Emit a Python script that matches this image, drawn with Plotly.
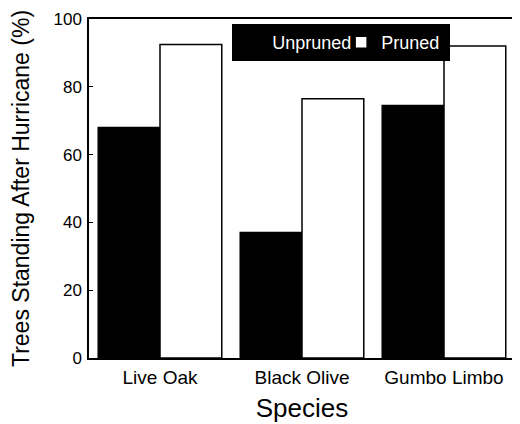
import plotly.graph_objects as go

species = ["Live Oak", "Black Olive", "Gumbo Limbo"]
unpruned = [68, 37, 74.5]
pruned = [92.5, 76.5, 92]

font = "Arial, Liberation Sans, sans-serif"

fig = go.Figure()
fig.add_trace(go.Bar(x=species, y=unpruned, name="Unpruned",
                     marker=dict(color="black", line=dict(color="black", width=1.5))))
fig.add_trace(go.Bar(x=species, y=pruned, name="Pruned",
                     marker=dict(color="white", line=dict(color="black", width=1.5))))

fig.update_layout(
    width=512, height=416,
    margin=dict(l=81, r=5, t=11, b=66),
    paper_bgcolor="white", plot_bgcolor="white",
    barmode="group", bargap=0.13, bargroupgap=0,
    font=dict(family=font, color="black", size=17),
    legend=dict(orientation="h", x=0.336, y=0.985, xanchor="left", yanchor="top",
                bgcolor="black", font=dict(color="white", size=18, family=font),
                itemwidth=30, tracegroupgap=0, entrywidth=64,
                borderwidth=0),
    xaxis=dict(title=dict(text="Species", font=dict(size=26), standoff=12),
               showline=True, linecolor="black", linewidth=1.5, mirror=True,
               ticks="", tickfont=dict(size=19), ticklabelstandoff=1, automargin=False),
    yaxis=dict(title=dict(text="Trees Standing After Hurricane (%)", font=dict(size=23), standoff=22),
               range=[0, 100], tickvals=[0, 20, 40, 60, 80, 100],
               showline=True, linecolor="black", linewidth=1.5, mirror=True,
               ticks="inside", ticklen=4, tickcolor="black", showgrid=False,
               zeroline=False, tickfont=dict(size=17), ticklabelstandoff=2, automargin=False),
)

fig.write_html("out.html")
